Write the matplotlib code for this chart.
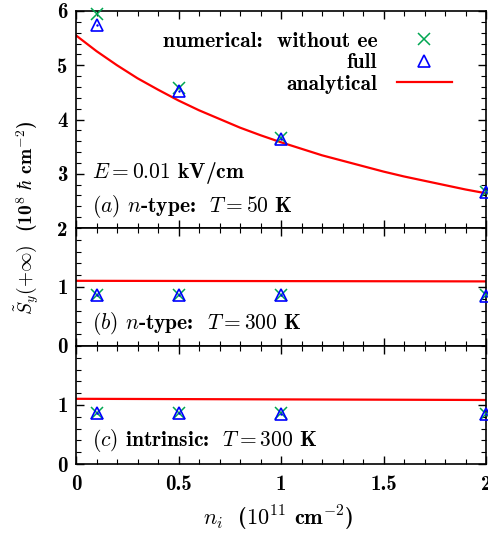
import matplotlib
matplotlib.use("Agg")
import matplotlib.pyplot as plt
from matplotlib.ticker import FixedLocator, MultipleLocator, FuncFormatter
from matplotlib.lines import Line2D

plt.rcParams['mathtext.fontset'] = 'cm'
plt.rcParams['font.family'] = 'DejaVu Serif'
plt.rcParams['axes.unicode_minus'] = False

# density n_i (10^11 cm^-2)
n_i = [0.1, 0.5, 1.0, 2.0]

# (a) n-type, T = 50 K
a_without_ee = [5.95, 4.58, 3.66, 2.67]
a_full = [5.75, 4.53, 3.64, 2.67]
a_curve_x = [0.0, 0.1, 0.2, 0.3, 0.4, 0.5, 0.6, 0.7, 0.8, 0.9, 1.0,
             1.1, 1.2, 1.3, 1.4, 1.5, 1.6, 1.7, 1.8, 1.9, 2.0]
a_curve_y = [5.55, 5.26, 5.00, 4.76, 4.55, 4.35, 4.17, 4.01, 3.85, 3.71, 3.58,
             3.46, 3.34, 3.24, 3.14, 3.04, 2.95, 2.87, 2.79, 2.71, 2.64]

# (b) n-type, T = 300 K
b_without_ee = [0.86, 0.86, 0.86, 0.86]
b_full = [0.86, 0.86, 0.86, 0.85]
b_curve_x = [0.0, 2.0]
b_curve_y = [1.105, 1.095]

# (c) intrinsic, T = 300 K
c_without_ee = [0.87, 0.86, 0.86, 0.85]
c_full = [0.87, 0.86, 0.85, 0.84]
c_curve_x = [0.0, 2.0]
c_curve_y = [1.105, 1.085]

x_ticks = [0, 0.5, 1, 1.5, 2]
x_ticklabels = ['0', '0.5', '1', '1.5', '2']

GREEN = '#00a651'
BLUE = '#0000ff'
RED = '#ff0000'
FS = 15.5
TFS = 15
BOLD_FAMILY = 'cmb10'

fig = plt.figure(figsize=(4.88, 5.36), dpi=100)
gs = fig.add_gridspec(3, 1, height_ratios=[217, 118, 118], hspace=0,
                      left=76/488, right=486/488, top=1-11/536, bottom=1-464/536)
axes = [fig.add_subplot(gs[i]) for i in range(3)]

panels = [
    (a_without_ee, a_full, a_curve_x, a_curve_y, (2, 6), [2, 3, 4, 5, 6]),
    (b_without_ee, b_full, b_curve_x, b_curve_y, (0, 2), [0, 1]),
    (c_without_ee, c_full, c_curve_x, c_curve_y, (0, 2), [0, 1]),
]

for ax, (wo, full, cx, cy, ylim, yt) in zip(axes, panels):
    ax.plot(cx, cy, color=RED, lw=1.6, zorder=2)
    ax.plot(n_i, wo, ls='none', marker='x', ms=9, mew=1.1, color=GREEN, zorder=3,
            clip_on=False)
    ax.plot(n_i, full, ls='none', marker='^', ms=8, mew=1.2, mfc='none', mec=BLUE,
            zorder=4, clip_on=False)
    ax.plot(n_i, full, ls='none', marker='.', ms=1.5, color=BLUE, zorder=4, clip_on=False)
    ax.set_xlim(0, 2)
    ax.set_ylim(*ylim)
    ax.xaxis.set_major_locator(FixedLocator(x_ticks))
    ax.xaxis.set_minor_locator(MultipleLocator(0.1))
    ax.yaxis.set_major_locator(FixedLocator(yt))
    ax.yaxis.set_minor_locator(MultipleLocator(0.2))
    ax.yaxis.set_major_formatter(FuncFormatter(lambda v, p: '%g' % v))
    ax.tick_params(which='both', direction='in', top=True, right=True, labelsize=TFS,
                   labelfontfamily=BOLD_FAMILY)
    ax.tick_params(which='major', length=6, width=1)
    ax.tick_params(which='minor', length=3.5, width=0.8)
    ax.tick_params(axis='y', pad=6)
    for s in ax.spines.values():
        s.set_linewidth(1.2)
    if ax is not axes[-1]:
        ax.tick_params(labelbottom=False)

axes[-1].set_xticklabels(x_ticklabels)
axes[-1].tick_params(axis='x', pad=8)

# legend
handles = [
    Line2D([], [], ls='none', marker='x', ms=9, mew=1.1, color=GREEN),
    Line2D([], [], ls='none', marker='^', ms=8, mew=1.2, mfc='none', mec=BLUE),
    Line2D([], [], color=RED, lw=1.6),
]
labels = ['numerical:  without ee', 'full', 'analytical']
axes[0].legend(handles, labels, loc='upper right', bbox_to_anchor=(0.955, 0.975),
               frameon=False, markerfirst=False, handlelength=2.6,
               prop={'family': BOLD_FAMILY, 'size': FS},
               labelspacing=0.12, handletextpad=0.9, borderpad=0.2)

txt = dict(fontsize=FS, va='center', family=BOLD_FAMILY)
axes[0].text(0.04, 0.255, r'$E = 0.01$ kV/cm', transform=axes[0].transAxes, **txt)
axes[0].text(0.04, 0.10, r'$(a)$ $n$-type:  $T = 50$ K', transform=axes[0].transAxes, **txt)
axes[1].text(0.04, 0.19, r'$(b)$ $n$-type:  $T = 300$ K', transform=axes[1].transAxes, **txt)
axes[2].text(0.04, 0.20, r'$(c)$ intrinsic:  $T = 300$ K', transform=axes[2].transAxes, **txt)

fig.text(27/488, 1-218/536, r'$\tilde{S}_y(+\infty)$  (10$^8$ $\hbar$ cm$^{-2}$)',
         rotation=90, ha='center', va='center', fontsize=14, family=BOLD_FAMILY)
fig.text(278/488, 1-518/536, r'$n_i$  ($10^{11}$ cm$^{-2}$)',
         ha='center', va='center', fontsize=FS + 0.5, family=BOLD_FAMILY)

fig.savefig('out.png', dpi=100)
